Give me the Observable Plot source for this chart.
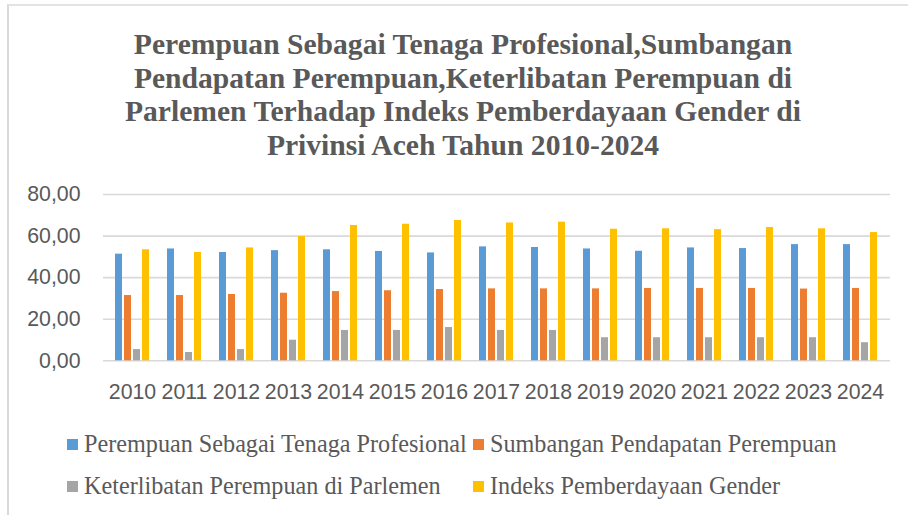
<!DOCTYPE html>
<html>
<head>
<meta charset="utf-8">
<script src="https://cdn.jsdelivr.net/npm/d3@7"></script>
<script src="https://cdn.jsdelivr.net/npm/@observablehq/plot@0.6"></script>
<style>
  html, body { margin: 0; padding: 0; background: #fff; }
  #chart { position: relative; width: 908px; height: 515px; overflow: hidden; background: #fff; }
  #frame { position: absolute; left: 7px; top: 4px; width: 920px; height: 540px;
           border-left: 2px solid #d9d9d9; border-top: 2px solid #e3e3e3; }
  #title { position: absolute; left: 63px; width: 800px; top: 28px; text-align: center;
           font-family: "Liberation Serif", serif; font-weight: bold; font-size: 29.6px;
           line-height: 33.7px; color: #595959; }
  .layer { position: absolute; left: 0; top: 180px; }
  .legend-item { position: absolute; display: flex; align-items: center;
                 font-family: "Liberation Serif", serif; font-size: 24.2px; color: #595959; white-space: nowrap; }
  .swatch { width: 11px; height: 11px; margin-right: 6px; }
</style>
</head>
<body>
<div id="chart">
  <div id="frame"></div>
  <div id="title">Perempuan Sebagai Tenaga Profesional,Sumbangan<br>Pendapatan Perempuan,Keterlibatan Perempuan di<br>Parlemen Terhadap Indeks Pemberdayaan Gender di<br>Privinsi Aceh Tahun 2010-2024</div>
  <div id="grid" class="layer"></div>
  <div id="bars" class="layer"></div>
  <div id="legend"></div>
</div>
<script>
const years = ["2010","2011","2012","2013","2014","2015","2016","2017","2018","2019","2020","2021","2022","2023","2024"];
const seriesNames = [
  "Perempuan Sebagai Tenaga Profesional",
  "Sumbangan Pendapatan Perempuan",
  "Keterlibatan Perempuan di Parlemen",
  "Indeks Pemberdayaan Gender"
];
const seriesColors = ["#5b9bd5", "#ed7d31", "#a5a5a5", "#ffc000"];
const tenagaProfesional = [51.3,53.8,52.1,53.0,53.4,52.6,51.9,54.8,54.5,53.8,52.7,54.3,54.0,55.9,55.9];
const sumbanganPendapatan = [31.4,31.4,31.9,32.5,33.3,33.7,34.3,34.6,34.6,34.6,34.8,34.8,34.8,34.5,34.8];
const keterlibatanParlemen = [5.4,4.0,5.4,9.9,14.6,14.6,16.0,14.6,14.6,11.1,11.1,11.1,11.1,11.1,8.7];
const indeksPemberdayaan = [53.4,52.1,54.3,59.8,65.1,65.7,67.5,66.3,66.7,63.3,63.5,63.1,64.1,63.5,61.7];
const yTicks = [0, 20, 40, 60, 80];

const seriesValues = [tenagaProfesional, sumbanganPendapatan, keterlibatanParlemen, indeksPemberdayaan];
const rows = [];
years.forEach((yr, i) => {
  seriesNames.forEach((s, j) => rows.push({year: yr, series: s, value: seriesValues[j][i]}));
});

const common = {
  width: 908, height: 230,
  marginLeft: 103, marginRight: 18, marginTop: 14, marginBottom: 49.7,
  style: {fontFamily: "Liberation Sans, Arial, sans-serif", fontSize: "21.3px", color: "#595959", background: "transparent", overflow: "visible"}
};
const fmt = d => d.toFixed(2).replace(".", ",");

const grid = Plot.plot({
  ...common,
  y: {domain: [0, 80], ticks: yTicks, tickFormat: fmt, tickSize: 0, tickPadding: 23, label: null},
  marks: [Plot.ruleY(yTicks, {stroke: "#d9d9d9", strokeWidth: 1.6})]
});
document.getElementById("grid").appendChild(grid);

const bars = Plot.plot({
  ...common,
  facet: {data: rows, x: "year"},
  fx: {domain: years, paddingInner: 0.26, paddingOuter: 0.13, axis: "bottom", tickSize: 0, tickPadding: 23, label: null},
  x: {domain: seriesNames, paddingInner: 0.22, paddingOuter: 0.1, axis: null},
  y: {domain: [0, 80], axis: null},
  color: {domain: seriesNames, range: seriesColors},
  marks: [Plot.barY(rows, {x: "series", y: "value", fill: "series"})]
});
document.getElementById("bars").appendChild(bars);

const legendPos = [[67, 444], [473, 444], [67, 486], [473, 486]];
const legend = document.getElementById("legend");
seriesNames.forEach((s, i) => {
  const item = document.createElement("div");
  item.className = "legend-item";
  item.style.left = legendPos[i][0] + "px";
  item.style.top = (legendPos[i][1] - 15) + "px";
  item.style.height = "30px";
  const sw = document.createElement("span");
  sw.className = "swatch";
  sw.style.background = seriesColors[i];
  const tx = document.createElement("span");
  tx.textContent = s;
  item.appendChild(sw);
  item.appendChild(tx);
  legend.appendChild(item);
});
</script>
</body>
</html>
